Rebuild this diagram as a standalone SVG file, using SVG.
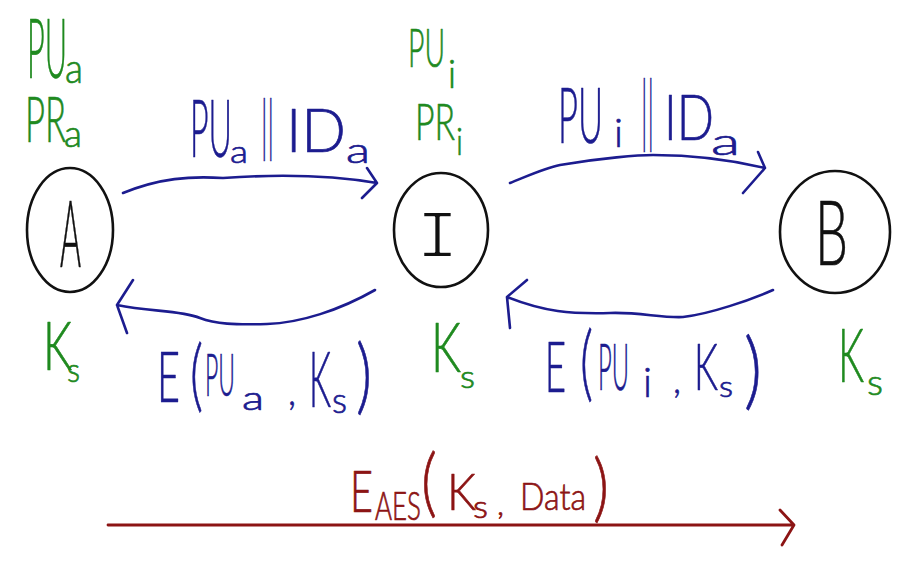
<svg xmlns="http://www.w3.org/2000/svg" width="904" height="562" viewBox="0 0 904 562">
<style>
text{font-family:Lato,"Liberation Sans",sans-serif;font-weight:300;stroke-width:0.7;stroke-linejoin:round}
.g{fill:#1f8a1f;stroke:#1f8a1f}
.b{fill:#1c1c8f;stroke:#1c1c8f}
.r{fill:#8c1414;stroke:#8c1414}
.k{fill:#111;stroke:#111}
.mono{font-family:"Liberation Mono","DejaVu Sans Mono",monospace;font-weight:400;stroke:#fff;stroke-width:2.2}
.node{fill:none;stroke:#111;stroke-width:2.6}
.bl{fill:none;stroke:#1c1c8f;stroke-width:2.6;stroke-linecap:round;stroke-linejoin:round}
.rl{fill:none;stroke:#8c1414;stroke-width:2.8;stroke-linecap:round;stroke-linejoin:round}
</style>
<rect width="904" height="562" fill="#fff"/>
<g id="node-A">
<ellipse class="node" cx="70" cy="230" rx="43" ry="62"/>
<text class="k" x="60" y="267" font-size="93" textLength="21" lengthAdjust="spacingAndGlyphs">A</text>
<text class="g" x="27" y="78" font-size="82" textLength="40" lengthAdjust="spacingAndGlyphs">PU</text>
<text class="g" x="65" y="83" font-size="42" textLength="18" lengthAdjust="spacingAndGlyphs">a</text>
<text class="g" x="25" y="142" font-size="63" textLength="41" lengthAdjust="spacingAndGlyphs">PR</text>
<text class="g" x="64" y="147" font-size="38" textLength="18" lengthAdjust="spacingAndGlyphs">a</text>
<text class="g" x="43" y="370" font-size="67" textLength="29" lengthAdjust="spacingAndGlyphs">K</text>
<text class="g" x="67" y="382" font-size="33" textLength="13" lengthAdjust="spacingAndGlyphs">s</text>
</g>
<g id="node-I">
<ellipse class="node" cx="441" cy="230" rx="47" ry="57"/>
<text class="k mono" x="416" y="257" font-size="68" textLength="43" lengthAdjust="spacingAndGlyphs">I</text>
<text class="g" x="408" y="67" font-size="54" textLength="37" lengthAdjust="spacingAndGlyphs">PU</text>
<text class="g" x="448" y="88" font-size="39" textLength="8" lengthAdjust="spacingAndGlyphs">i</text>
<text class="g" x="415" y="140" font-size="52" textLength="40" lengthAdjust="spacingAndGlyphs">PR</text>
<text class="g" x="456" y="155" font-size="38" textLength="7" lengthAdjust="spacingAndGlyphs">i</text>
<text class="g" x="431" y="372" font-size="68" textLength="30" lengthAdjust="spacingAndGlyphs">K</text>
<text class="g" x="460" y="388" font-size="32" textLength="15" lengthAdjust="spacingAndGlyphs">s</text>
</g>
<g id="node-B">
<ellipse class="node" cx="835" cy="232" rx="55" ry="61"/>
<text class="k" x="815" y="265" font-size="90" textLength="33" lengthAdjust="spacingAndGlyphs">B</text>
<text class="g" x="838" y="382" font-size="75" textLength="26" lengthAdjust="spacingAndGlyphs">K</text>
<text class="g" x="867" y="395" font-size="36" textLength="16" lengthAdjust="spacingAndGlyphs">s</text>
</g>
<g id="connectors">
<path class="bl" d="M123,193 C160,178 190,176 223,178 C280,174 330,175 377,183 M367,168 L377,183 L362,198"/>
<path class="bl" d="M510,183 C530,175 545,168 560,165 C600,158 640,155 653,155 C700,155 740,162 765,168 M758,152 L765,168 L743,193"/>
<path class="bl" d="M375,290 C340,310 300,323 267,324 C235,325 215,324 200,318 C180,310 150,312 117,305 M133,280 L117,305 L127,333"/>
<path class="bl" d="M773,290 C750,300 710,314 683,317 C660,318 640,312 610,313 C570,314 545,312 507,297 M527,280 L507,297 L510,328"/>
<path class="rl" d="M108,525 L794,525 M780,510 L794,525 L782,545"/>
<g id="label-AI">
<text class="b" x="190" y="157" font-size="80" textLength="42" lengthAdjust="spacingAndGlyphs">PU</text>
<text class="b" x="230" y="163" font-size="32" textLength="18" lengthAdjust="spacingAndGlyphs">a</text>
<text class="b" x="261" y="149" font-size="67" textLength="13" lengthAdjust="spacingAndGlyphs">||</text>
<text class="b" x="286" y="152" font-size="62" textLength="60" lengthAdjust="spacingAndGlyphs">ID</text>
<text class="b" x="346" y="163" font-size="36" textLength="24" lengthAdjust="spacingAndGlyphs">a</text>
</g>
<g id="label-IB">
<text class="b" x="558" y="143" font-size="77" textLength="45" lengthAdjust="spacingAndGlyphs">PU</text>
<text class="b" x="614" y="147" font-size="40" textLength="9" lengthAdjust="spacingAndGlyphs">i</text>
<text class="b" x="641" y="138" font-size="78" textLength="13" lengthAdjust="spacingAndGlyphs">||</text>
<text class="b" x="664" y="140" font-size="64" textLength="50" lengthAdjust="spacingAndGlyphs">ID</text>
<text class="b" x="711" y="155" font-size="38" textLength="29" lengthAdjust="spacingAndGlyphs">a</text>
</g>
<g id="label-IA">
<text class="b" x="157" y="402" font-size="70" textLength="23" lengthAdjust="spacingAndGlyphs">E</text>
<text class="b" x="190" y="402" font-size="78" textLength="13" lengthAdjust="spacingAndGlyphs">(</text>
<text class="b" x="205" y="396" font-size="60" textLength="30" lengthAdjust="spacingAndGlyphs">PU</text>
<text class="b" x="242" y="410" font-size="34" textLength="22" lengthAdjust="spacingAndGlyphs">a</text>
<text class="b" x="288" y="405" font-size="40" textLength="8" lengthAdjust="spacingAndGlyphs">,</text>
<text class="b" x="309" y="407" font-size="76" textLength="22" lengthAdjust="spacingAndGlyphs">K</text>
<text class="b" x="332" y="413" font-size="36" textLength="15" lengthAdjust="spacingAndGlyphs">s</text>
<text class="b" x="356" y="404" font-size="82" textLength="16" lengthAdjust="spacingAndGlyphs">)</text>
</g>
<g id="label-BI">
<text class="b" x="545" y="392" font-size="70" textLength="21" lengthAdjust="spacingAndGlyphs">E</text>
<text class="b" x="580" y="391" font-size="82" textLength="13" lengthAdjust="spacingAndGlyphs">(</text>
<text class="b" x="598" y="390" font-size="65" textLength="31" lengthAdjust="spacingAndGlyphs">PU</text>
<text class="b" x="643" y="397" font-size="41" textLength="9" lengthAdjust="spacingAndGlyphs">i</text>
<text class="b" x="673" y="393" font-size="38" textLength="8" lengthAdjust="spacingAndGlyphs">,</text>
<text class="b" x="694" y="390" font-size="65" textLength="24" lengthAdjust="spacingAndGlyphs">K</text>
<text class="b" x="719" y="397" font-size="29" textLength="14" lengthAdjust="spacingAndGlyphs">s</text>
<text class="b" x="744" y="399" font-size="85" textLength="18" lengthAdjust="spacingAndGlyphs">)</text>
</g>
<g id="label-AB">
<text class="r" x="350" y="512" font-size="58" textLength="23" lengthAdjust="spacingAndGlyphs">E</text>
<text class="r" x="375" y="520" font-size="39" textLength="46" lengthAdjust="spacingAndGlyphs">AES</text>
<text class="r" x="421" y="508" font-size="74" textLength="16" lengthAdjust="spacingAndGlyphs">(</text>
<text class="r" x="447" y="510" font-size="52" textLength="29" lengthAdjust="spacingAndGlyphs">K</text>
<text class="r" x="473" y="518" font-size="31" textLength="15" lengthAdjust="spacingAndGlyphs">s</text>
<text class="r" x="497" y="515" font-size="30" textLength="7" lengthAdjust="spacingAndGlyphs">,</text>
<text class="r" x="520" y="510" font-size="38" textLength="66" lengthAdjust="spacingAndGlyphs">Data</text>
<text class="r" x="593" y="513" font-size="74" textLength="16" lengthAdjust="spacingAndGlyphs">)</text>
</g>
</g>
</svg>
